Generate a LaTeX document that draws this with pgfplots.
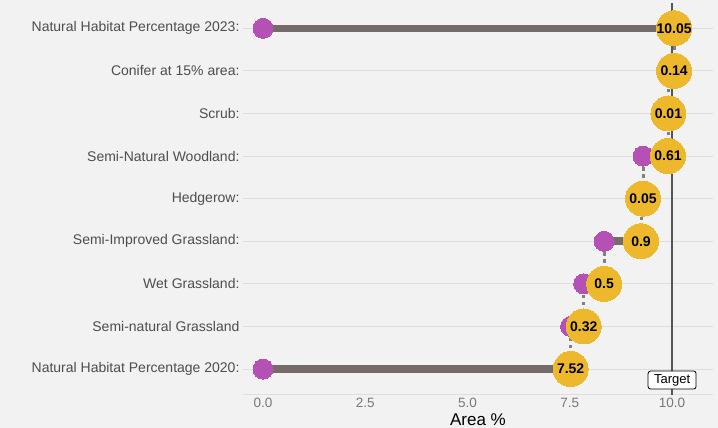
\documentclass[border=0pt]{standalone}
\usepackage{pgfplots}
\pgfplotsset{compat=1.18}
\usepackage{pgfplotstable}
\usepackage{fontspec}
\setmainfont{Liberation Sans}
\definecolor{bg}{HTML}{F2F2F2}
\definecolor{gridc}{HTML}{DEDEDE}
\definecolor{seg}{HTML}{756B6B}
\definecolor{conn}{HTML}{808080}
\definecolor{purp}{HTML}{B550B4}
\definecolor{yel}{HTML}{EDB82B}
\definecolor{ylab}{HTML}{4D4D4D}
\definecolor{xlab}{HTML}{777777}
\definecolor{targ}{HTML}{555555}
\pgfplotstableread{
row start end lab
1 0    7.52  7.52
2 7.52 7.84  0.32
3 7.84 8.34  0.5
4 8.34 9.24  0.9
5 9.24 9.29  0.05
6 9.29 9.90  0.61
7 9.90 9.91  0.01
8 9.91 10.05 0.14
9 0    10.05 10.05
}\steps
\begin{document}
\begin{tikzpicture}[x=1pt,y=1pt]
\fill[bg] (0,0) rectangle (718,428);
\path[use as bounding box] (0,0) rectangle (718,428);
\begin{axis}[
  at={(243pt,33.4pt)}, anchor=south west,
  scale only axis, width=470pt, height=391.9pt,
  xmin=-0.49, xmax=11, ymin=0.4, ymax=9.6,
  clip=false,
  axis x line*=bottom, axis y line*=left,
  x axis line style={draw=gridc, line width=0.8pt, -},
  y axis line style={draw=none, -},
  major tick length=0,
  ymajorgrids, grid style={draw=gridc, line width=0.8pt},
  xtick={0,2.5,5,7.5,10},
  xticklabels={0.0,2.5,5.0,7.5,10.0},
  xticklabel style={font=\fontsize{13.5}{15}\selectfont, text=xlab},
  ytick={1,...,9},
  yticklabels={Natural Habitat Percentage 2020:,Semi-natural Grassland,Wet Grassland:,Semi-Improved Grassland:,Hedgerow:,Semi-Natural Woodland:,Scrub:,Conifer at 15\% area:,Natural Habitat Percentage 2023:},
  yticklabel style={font=\fontsize{14}{16}\selectfont, text=ylab},
  xlabel={Area \%},
  xlabel style={at={(axis description cs:0.5,0)}, anchor=center, yshift=-25pt, font=\fontsize{17}{19}\selectfont, text=black},
]
% target line
\addplot[targ, line width=1.5pt] coordinates {(10,0.4) (10,9.6)};
% horizontal segments
\addplot[seg, line width=7.5pt] coordinates {(0,1) (7.52,1)};
\addplot[seg, line width=7.5pt] coordinates {(7.52,2) (7.84,2)};
\addplot[seg, line width=7.5pt] coordinates {(7.84,3) (8.34,3)};
\addplot[seg, line width=7.5pt] coordinates {(8.34,4) (9.24,4)};
\addplot[seg, line width=7.5pt] coordinates {(9.24,5) (9.29,5)};
\addplot[seg, line width=7.5pt] coordinates {(9.29,6) (9.90,6)};
\addplot[seg, line width=7.5pt] coordinates {(9.90,7) (9.91,7)};
\addplot[seg, line width=7.5pt] coordinates {(9.91,8) (10.05,8)};
\addplot[seg, line width=7.5pt] coordinates {(0,9) (10.05,9)};
% connectors
\addplot[conn, line width=3pt, dash pattern=on 3.5pt off 3.5pt] coordinates {(7.52,1) (7.52,2)};
\addplot[conn, line width=3pt, dash pattern=on 3.5pt off 3.5pt] coordinates {(7.84,2) (7.84,3)};
\addplot[conn, line width=3pt, dash pattern=on 3.5pt off 3.5pt] coordinates {(8.34,3) (8.34,4)};
\addplot[conn, line width=3pt, dash pattern=on 3.5pt off 3.5pt] coordinates {(9.24,4) (9.24,5)};
\addplot[conn, line width=3pt, dash pattern=on 3.5pt off 3.5pt] coordinates {(9.29,5) (9.29,6)};
\addplot[conn, line width=3pt, dash pattern=on 3.5pt off 3.5pt] coordinates {(9.90,6) (9.90,7)};
\addplot[conn, line width=3pt, dash pattern=on 3.5pt off 3.5pt] coordinates {(9.91,7) (9.91,8)};
\addplot[conn, line width=3pt, dash pattern=on 3.5pt off 3.5pt] coordinates {(10.05,8) (10.05,9)};
% start dots
\addplot[purp, only marks, mark=*, mark size=10pt, mark options={fill=purp, draw=purp, line width=0pt}] table[x=start, y=row] {\steps};
% end dots with labels
\addplot[yel, only marks, mark=*, mark size=17.5pt, mark options={fill=yel, draw=yel, line width=0pt},
  nodes near coords, point meta=explicit symbolic,
  nodes near coords style={anchor=center, font=\fontsize{14}{16}\selectfont\bfseries, text=black}]
  table[x=end, y=row, meta=lab] {\steps};
% target label
\node[draw=black, fill=white, rounded corners=2.5pt, line width=0.8pt, minimum width=48pt, minimum height=18pt, inner sep=0pt, font=\fontsize{13}{15}\selectfont] at (axis cs:10,0.742) {Target};
\end{axis}
\end{tikzpicture}
\end{document}
